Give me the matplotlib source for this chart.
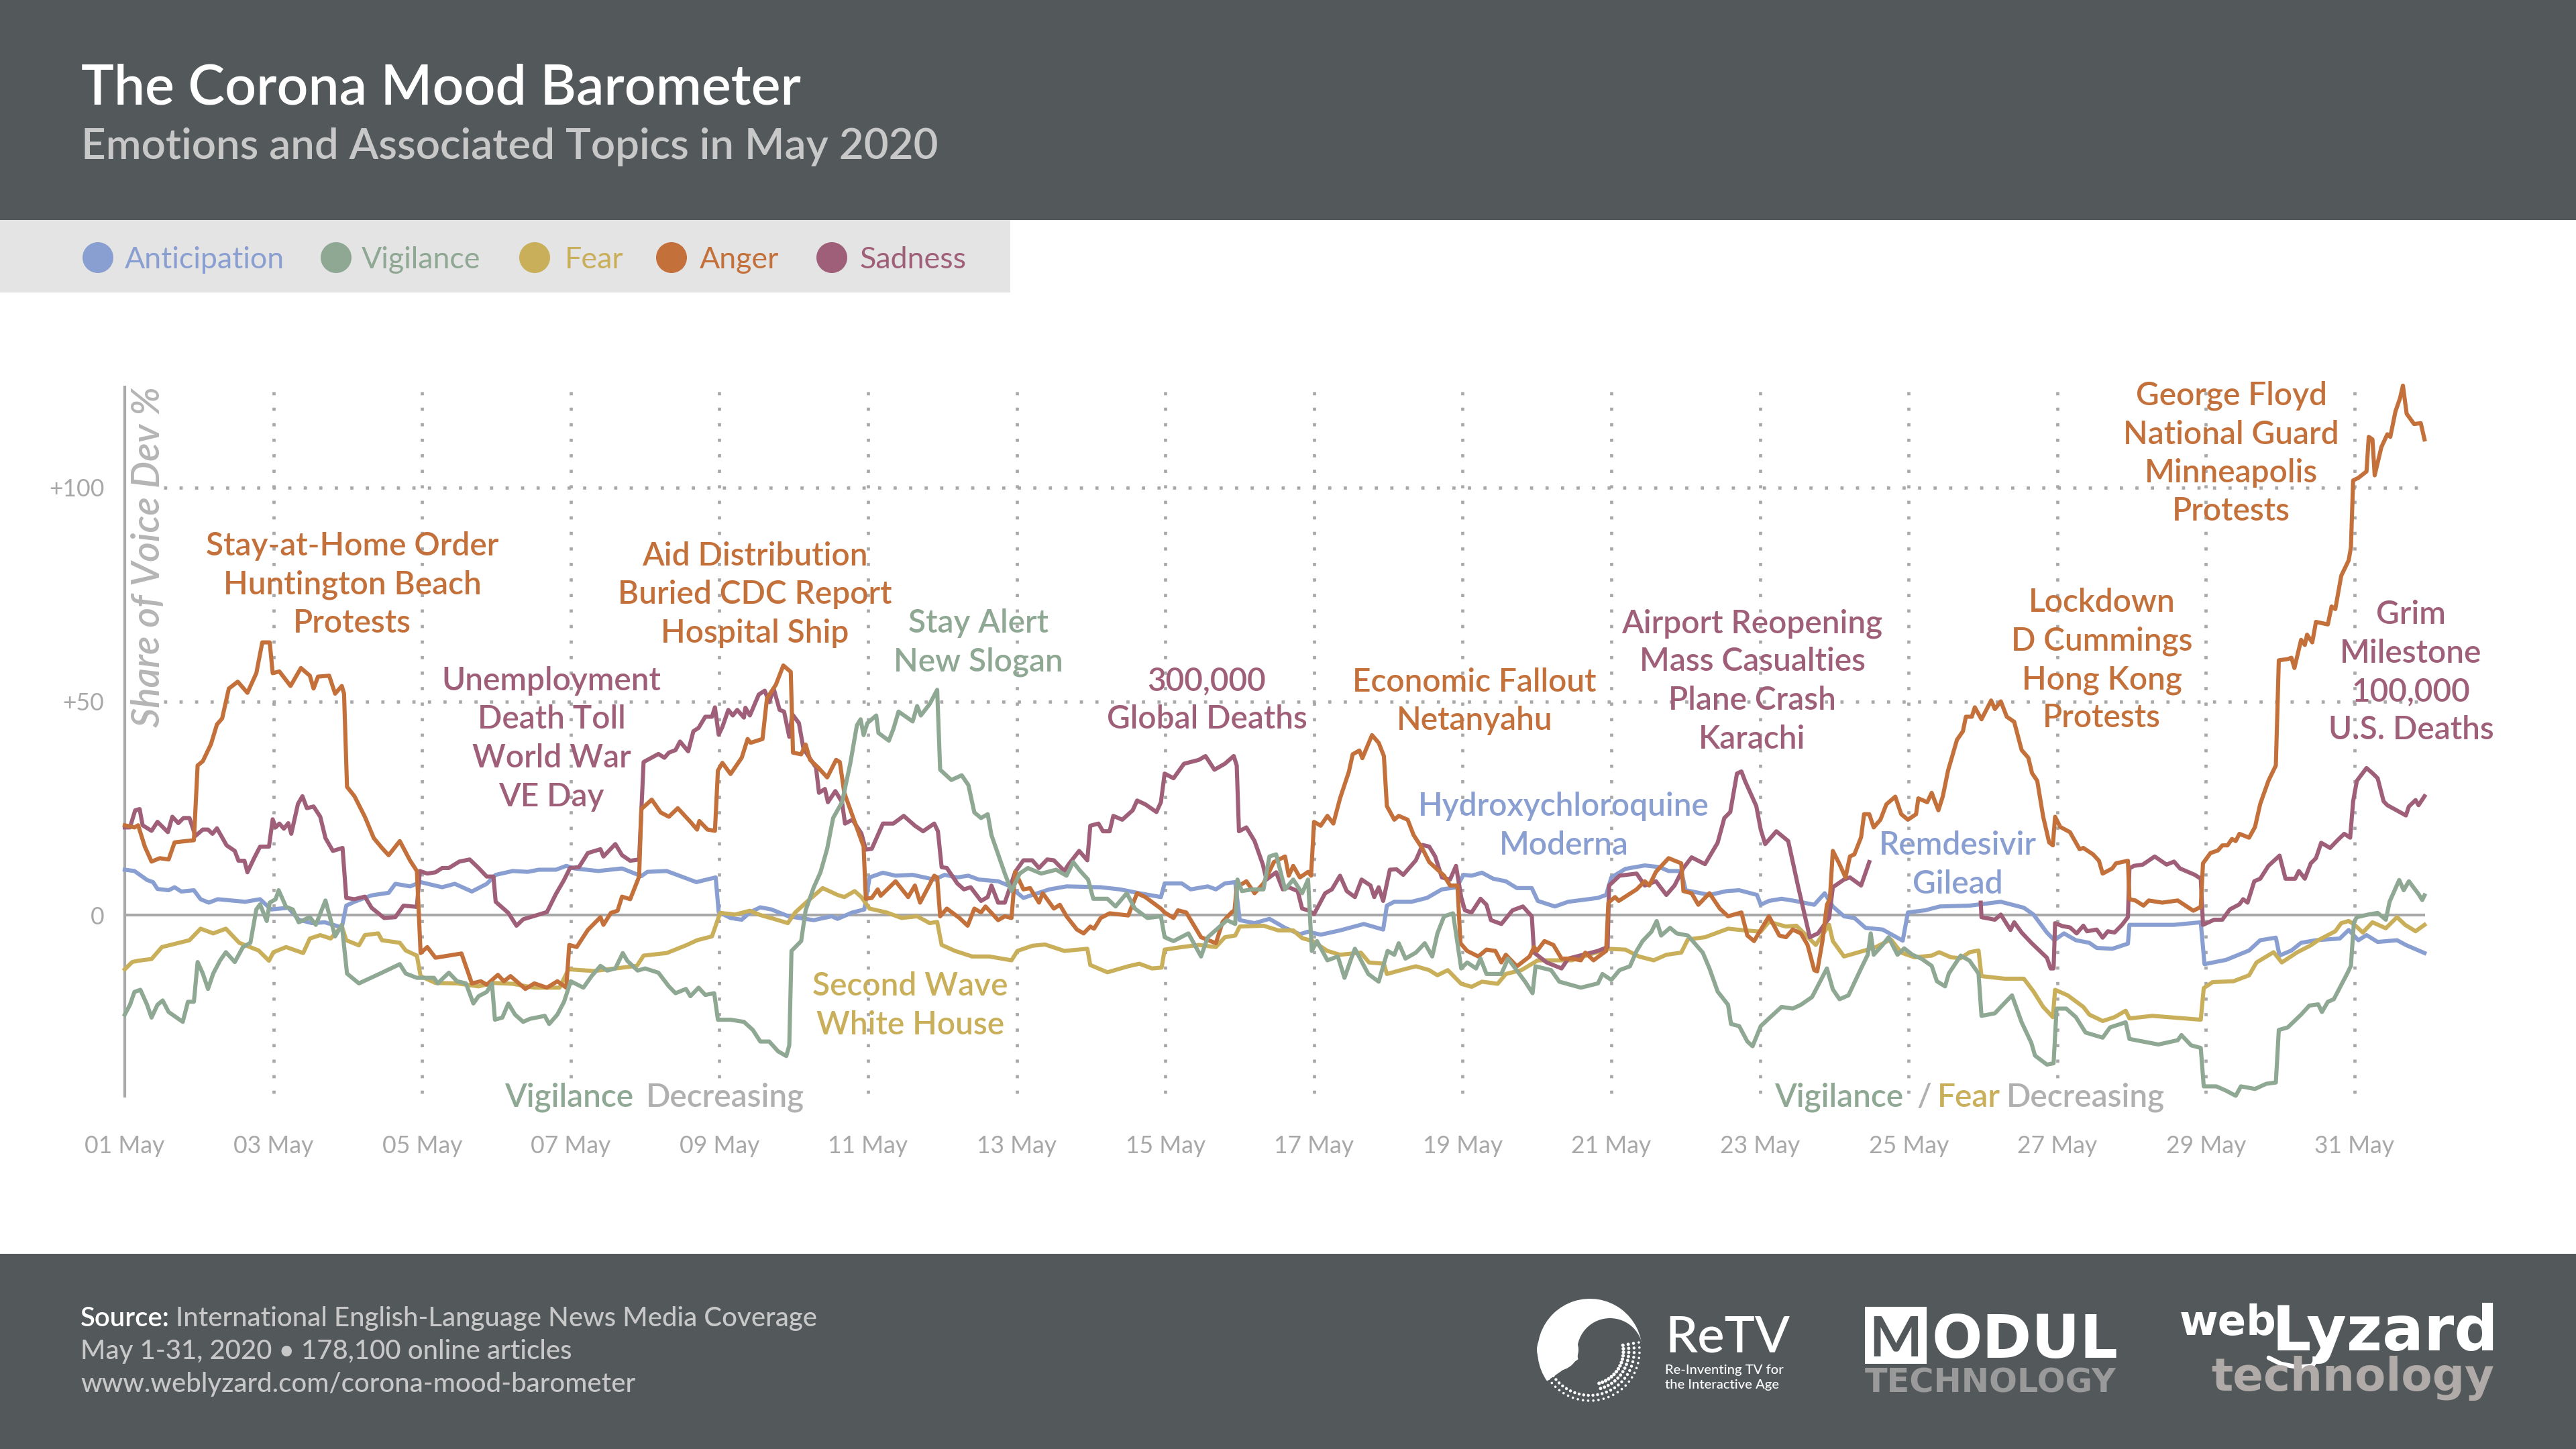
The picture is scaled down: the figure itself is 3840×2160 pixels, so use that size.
import numpy as np
import matplotlib
matplotlib.use("Agg")
from matplotlib import pyplot as plt
from matplotlib.patches import Circle, Rectangle, Wedge

nan = float("nan")

# colores
c_anticipation = "#8A9FD1"
c_vigilance = "#8FA893"
c_fear = "#C9AF5A"
c_anger = "#C4703A"
c_sadness = "#A05F78"
c_dark = "#53585B"
c_light = "#E4E4E4"
c_grey = "#A8A8A8"

# valores: dia desde el 1 de mayo, desviacion %
anger_days = [0,.13,.18,.27,.36,.47,.59,.67,.82,.93,.98,1.05,1.16,1.24,1.31,1.4,1.52,1.65,1.77,1.85,1.95,1.99,2.08,2.23,2.37,2.49,2.54,2.6,2.75,2.83,2.92,2.95,2.99,3.09,3.23,3.35,3.46,3.55,3.7,3.84,3.93,3.98,4.07,4.18,4.53,4.67,4.79,4.87,5.02,5.1,5.19,5.39,5.51,5.68,5.82,5.94,5.98,6.08,6.23,6.4,6.44,6.54,6.63,6.69,6.8,6.92,6.95,7.09,7.21,7.32,7.44,7.61,7.7,7.73,7.84,7.94,7.98,8.04,8.15,8.3,8.38,8.42,8.58,8.64,8.76,8.86,8.96,8.99,9.1,9.16,9.22,9.33,9.45,9.57,9.62,9.68,9.82,9.94,9.97,10.05,10.13,10.17,10.37,10.54,10.63,10.7,10.89,10.93,10.97,11.06,11.23,11.34,11.43,11.52,11.58,11.75,11.84,11.93,11.98,12.09,12.18,12.3,12.35,12.5,12.58,12.67,12.81,12.9,12.99,13.04,13.13,13.25,13.5,13.62,13.73,13.94,13.99,14.11,14.17,14.28,14.48,14.68,14.77,14.89,14.93,14.96,15.09,15.2,15.32,15.46,15.61,15.66,15.72,15.81,15.92,15.96,16.0,16.09,16.18,16.26,16.35,16.47,16.52,16.61,16.65,16.78,16.87,16.94,16.98,17.08,17.14,17.26,17.34,17.46,17.55,17.75,17.83,17.93,17.97,18.06,18.21,18.32,18.44,18.52,18.58,18.73,18.9,18.96,19,19.1,19.22,19.33,19.47,19.59,19.65,19.76,19.93,19.96,20.05,20.1,20.34,20.45,20.51,20.6,20.77,20.94,20.97,21.08,21.17,21.32,21.46,21.57,21.75,21.83,21.92,22.12,22.26,22.35,22.44,22.55,22.64,22.73,22.77,22.84,22.9,22.94,22.98,23.07,23.15,23.21,23.27,23.36,23.4,23.47,23.53,23.62,23.7,23.82,23.9,23.99,24.1,24.13,24.25,24.31,24.4,24.46,24.53,24.65,24.73,24.77,24.85,24.89,24.98,25.11,25.16,25.24,25.32,25.42,25.52,25.61,25.66,25.73,25.81,25.89,25.94,25.97,26.04,26.17,26.3,26.35,26.48,26.56,26.61,26.74,26.79,26.95,26.97,27.05,27.16,27.23,27.41,27.62,27.83,27.93,27.96,28.06,28.16,28.22,28.29,28.35,28.4,28.45,28.58,28.66,28.73,28.84,28.94,28.98,29.1,29.15,29.19,29.28,29.33,29.36,29.43,29.48,29.64,29.69,29.74,29.82,29.92,29.95,29.98,30.05,30.16,30.19,30.24,30.27,30.36,30.44,30.48,30.55,30.61,30.65,30.7,30.8,30.89,30.94]
anger_vals = [21,20.5,21,16,12.5,13.3,13,17,17.3,17.5,35,36,40,44.6,46,53,54.6,52,56.6,63.8,63.8,56.6,57,53.6,57.8,56,53,55.8,56,51.8,53.6,51.8,30,27.8,23,18,15.7,14,17.3,12.7,10.3,-8.9,-7.5,-10,-9,-16,-15.5,-16.3,-14,-15.5,-14.3,-17.3,-16,-17,-15.5,-17,-7,-7.5,-3.5,-.5,-2.3,.5,1,4.3,3.7,9,24.8,27,24,23,25,21.8,20,22,20,19.7,33.8,35.6,33,36.8,41.2,40.3,41.2,50.7,53.9,58.4,56.9,38,37.6,39.9,36.3,34.5,32.2,36.3,35.8,28.6,21.8,16,3.8,4,6,4.5,7.9,4.2,6.9,2.9,9.2,8.8,-.3,1.5,-.7,-2.5,1.5,.6,2,-1.2,-.3,-.7,10.1,6,6.3,2.9,5.1,1.5,2.4,-.3,-3.4,-4.3,-2.7,-3.2,-.7,.4,-.1,5.1,4.2,1.5,.6,-.7,1.1,.6,-5.2,-6.6,-1.6,.6,1.1,6.5,7.9,5.1,7.4,12.4,13.7,9.2,11.5,8.8,10.1,9.2,21.8,20.9,23.2,21.4,27.3,33.6,37.6,38.5,36.7,42.1,40.3,37.2,25.5,22.3,23.2,22.3,18.7,15.5,12.4,9.2,6.9,6.9,-6.6,-8.4,-9.7,-8.1,-8.4,-11.1,-9.3,-12,-9.7,-7.5,-8.4,-6.1,-7,-10.2,-10.2,-10.6,-8.8,-10.6,-8.4,2.9,4.2,3.3,6,7.9,6.9,10.1,13.3,12.1,5.6,5.1,2.4,5.1,1.5,-.3,.6,-4.8,-6.1,-.3,-4.8,-5.2,-3.4,-4.3,-7,-12.9,-13.2,-6.1,2.4,3.8,15,11.9,8.8,13.7,14.2,18.2,23.6,23.6,20.5,22.3,25.9,27.7,23.6,22.3,23.6,27.3,26.4,28.6,24.5,27.8,33.8,41,43,46.4,46.4,48.6,45.8,50.2,48.2,50,46.4,45.2,38.6,36.8,33.2,31.4,23,17,16.3,23,20.6,19.4,15.4,15.7,14.2,12.7,9.7,10.9,12.1,12.7,3.7,3.4,2.2,3.4,2.9,3.4,1,1.9,12.1,14.5,15.1,16.3,16.3,17.8,17.3,19,18.1,20.6,26,31.4,35,59.6,59.9,60.2,57.8,64.4,63.2,65.6,63.8,68.6,68,72.2,71.6,79.4,83,86,101.7,102.3,103.8,111.9,111.3,102.9,109.5,112.5,111.9,117.9,120.9,123.9,117.3,114.9,115.1,111.3]

sadness_days = [0,.07,.14,.2,.24,.36,.44,.58,.64,.72,.79,.87,.95,1.05,1.12,1.18,1.24,1.37,1.48,1.53,1.61,1.65,1.74,1.82,1.94,1.99,2.03,2.08,2.14,2.2,2.24,2.33,2.39,2.45,2.54,2.63,2.7,2.8,2.93,2.98,3.09,3.23,3.32,3.49,3.64,3.75,3.93,3.97,4.07,4.18,4.27,4.36,4.5,4.64,4.76,4.87,4.96,4.99,5.16,5.27,5.36,5.57,5.68,5.8,5.91,5.99,6.11,6.23,6.4,6.44,6.6,6.69,6.8,6.92,6.98,7.18,7.26,7.32,7.41,7.47,7.58,7.65,7.72,7.81,7.9,7.94,7.99,8.04,8.12,8.18,8.24,8.33,8.35,8.41,8.53,8.61,8.67,8.73,8.81,8.87,8.94,8.98,9.07,9.13,9.25,9.3,9.34,9.42,9.46,9.56,9.65,9.69,9.79,9.91,9.97,10.05,10.2,10.34,10.48,10.63,10.74,10.89,10.94,10.99,11.06,11.2,11.29,11.38,11.52,11.61,11.66,11.75,11.84,11.98,12.09,12.21,12.3,12.41,12.5,12.64,12.7,12.84,12.95,12.99,13.1,13.16,13.25,13.3,13.42,13.56,13.62,13.73,13.88,13.94,13.99,14.11,14.25,14.45,14.54,14.66,14.8,14.92,14.96,14.99,15.09,15.2,15.31,15.36,15.49,15.58,15.66,15.78,15.84,15.92,16,16.15,16.24,16.35,16.44,16.55,16.64,16.76,16.81,16.87,16.93,17.02,17.11,17.2,17.29,17.37,17.46,17.55,17.63,17.72,17.83,17.91,17.98,18.03,18.12,18.24,18.32,18.38,18.52,18.67,18.81,18.93,18.96,19.13,19.33,19.42,19.82,19.95,19.97,20.11,20.34,20.45,20.6,20.74,20.85,20.97,21.08,21.26,21.43,21.52,21.6,21.69,21.75,21.8,21.95,22.01,22.07,22.15,22.22,22.38,22.51,22.67,22.78,22.93,22.98,23.13,23.21,23.36,23.47,23.48,24.97,24.98,25.16,25.24,25.37,25.42,25.52,25.65,25.86,25.91,25.95,25.97,26.07,26.17,26.26,26.35,26.4,26.53,26.61,26.68,26.77,26.87,26.95,26.97,27.03,27.15,27.31,27.47,27.57,27.65,27.85,27.93,27.96,28.11,28.22,28.32,28.45,28.5,28.56,28.65,28.73,28.84,28.99,29.07,29.2,29.25,29.33,29.41,29.48,29.55,29.67,29.77,29.86,29.94,29.98,30.03,30.16,30.24,30.31,30.39,30.44,30.69,30.73,30.82,30.86,30.94]
sadness_vals = [20.5,20.5,24.5,24.8,21,19.7,21.8,19.4,23,21.5,22.7,22.7,18.5,20,20,19,20.3,16.3,15,12.7,12.7,10,13.3,16,16,22.4,20.5,21.4,20.2,21.5,19,26,27.8,25,25.4,23,18,15,15.7,4,3.7,4.3,1.7,-.7,-.5,2.2,1.9,10.3,9.7,10,11,11,12.5,13,11,9,9,3.1,.5,-2.5,-1,.1,.7,4.9,8.2,11,11.2,14.5,15.4,13.7,16.6,14,12.7,13,35.8,37.7,36.8,38,38.6,40.6,38.3,43,43.8,46.4,46.4,48.6,42.2,44,48,46.7,48,46.2,48.5,46.7,51.6,52.5,49.8,53,48,47.6,41.7,47,44.9,39,35.8,34.5,28.6,29.5,26.4,29,26.4,21.4,22.3,19.1,15.3,15.5,21.4,21.4,23.2,20.9,19.6,21.4,19.6,11.2,11,7.4,6,6.5,3.3,4.2,6.9,2.9,2.9,10.1,12.8,12.8,11,13,12.8,10.3,11.9,15,12.8,20.9,21.4,19.6,19.6,23.2,22.3,24.5,26.8,25.9,24.1,26.4,33.1,32,35.4,36.3,37.2,34,35.4,37.2,35,19.6,20.5,17.3,11.9,8.3,10,6,6.5,5.6,1.5,1.1,.2,5.1,6,9.2,5.6,4.2,8.3,6.9,4.2,6.5,3.3,10.6,10.7,9.4,11.2,12.8,16.4,16,13.7,8.8,8.3,11.5,4.2,1.1,.6,3.8,2.4,-1.2,-2.1,1.1,2,-.3,-8.8,-11.1,-12.5,-10.2,-8.4,-7.5,6.9,9.2,9.7,6.9,7.9,4.7,6.9,11,13.5,11.9,16.9,22.7,24.1,33.1,33.6,31.3,25.5,20,16.6,18.2,19.6,17.3,6.9,-5.2,-4.3,-.7,6.5,8.3,8.8,6.9,12.4,nan,2.9,-.5,-1.1,.1,-3.5,-1.7,-4.1,-6.5,-10,-12.5,-12.5,-1.9,-2.6,-2.9,-4.3,-2.5,-3.8,-3.4,-5.3,-3.8,-4.1,-2.3,-.5,10.9,11.5,11.8,13.7,11.8,12.5,10.9,9.4,8.5,-2.3,-1.1,-1.1,1.3,2.5,3.7,2.9,7.9,8.5,11.5,13.9,8.5,8.5,10.3,8.5,12.1,13.3,16.9,15.7,17.5,19,18.1,26.6,31.4,34.4,33.2,32,26.6,25.7,23.3,25.4,26.9,25.7,27.8]

vigilance_days = [0,.07,.13,.21,.3,.36,.44,.51,.59,.78,.85,.93,.98,1.05,1.12,1.19,1.28,1.36,1.48,1.59,1.69,1.77,1.82,1.91,1.95,2.03,2.07,2.17,2.26,2.34,2.49,2.57,2.7,2.83,2.92,2.99,3.15,3.46,3.7,3.78,3.93,4.16,4.21,4.36,4.47,4.59,4.69,4.76,4.87,4.94,4.98,5.08,5.16,5.25,5.36,5.45,5.65,5.71,5.82,5.91,6,6.17,6.28,6.4,6.49,6.6,6.7,6.76,6.9,7,7.18,7.32,7.41,7.55,7.61,7.72,7.81,7.93,7.98,8.15,8.33,8.45,8.55,8.67,8.79,8.9,8.94,8.97,9.1,9.16,9.27,9.36,9.45,9.53,9.65,9.76,9.85,9.9,9.94,9.99,10.11,10.14,10.28,10.34,10.41,10.6,10.66,10.71,10.83,10.93,10.97,11.12,11.26,11.35,11.43,11.52,11.61,11.66,11.75,11.84,11.93,12.04,12.15,12.33,12.53,12.67,12.76,12.84,12.96,13.03,13.22,13.33,13.48,13.59,13.76,13.94,13.99,14.11,14.31,14.48,14.57,14.83,14.94,14.97,15.03,15.17,15.32,15.4,15.49,15.61,15.72,15.84,15.92,15.97,16.04,16.18,16.32,16.41,16.5,16.55,16.73,16.87,16.99,17.08,17.14,17.23,17.37,17.49,17.59,17.66,17.75,17.87,17.98,18.06,18.18,18.24,18.32,18.52,18.61,18.84,18.94,18.98,19.19,19.3,19.59,19.82,19.88,20,20.11,20.25,20.34,20.42,20.54,20.61,20.67,20.79,20.88,21.03,21.23,21.32,21.43,21.57,21.61,21.72,21.83,21.9,22.01,22.12,22.29,22.44,22.55,22.7,22.82,22.9,22.98,23.07,23.19,23.36,23.45,23.49,23.53,23.65,23.73,23.85,23.94,24.05,24.17,24.31,24.38,24.49,24.54,24.7,24.82,24.94,24.98,25.16,25.24,25.39,25.52,25.65,25.7,25.86,25.95,25.99,26.12,26.25,26.38,26.61,26.71,26.92,26.97,27.15,27.36,27.62,27.67,27.8,27.93,27.97,28.14,28.27,28.4,28.47,28.66,28.81,28.94,28.98,29.1,29.28,29.39,29.51,29.56,29.64,29.72,29.9,29.95,29.99,30.03,30.18,30.31,30.42,30.47,30.6,30.66,30.73,30.86,30.91,30.94]
vigilance_vals = [-23.3,-21,-18,-17.5,-21,-24,-21,-20,-22.7,-25,-20.3,-20.3,-11,-13.7,-17.3,-13.7,-10.7,-8.7,-11,-7.5,-6.5,1.3,2.5,-1.4,2.9,3.7,5.8,1.9,1.3,-1.7,-.5,-2.3,3.4,-5,-2.3,-13.7,-16,-13.5,-11.5,-13.7,-14.7,-14.7,-16,-13.5,-15.5,-16,-20.7,-19,-18,-16,-24.5,-24,-20.7,-23.3,-25,-24.3,-23.6,-25.5,-23.3,-20.3,-15.5,-17,-14.3,-11.9,-13,-12.5,-8.9,-10.7,-13,-12.5,-13.5,-16.7,-18.3,-17.3,-19,-17,-18.7,-18.3,-24.5,-24.5,-25,-26.9,-29.6,-29.6,-31.9,-33,-30.5,-8.4,-6.1,1.1,6.5,10,15.5,22.7,26.4,35.4,44.4,45.8,42.1,44.9,46.7,42.6,40.8,43.5,47.6,45.3,48.9,46.7,49.4,52.7,34,31.6,32.7,30.4,24,22.7,23.6,18.7,14.2,9.7,5.6,9.7,11,9.7,10.6,9.2,12.4,10.6,8.3,3.8,3.8,2,5.1,1.5,-.7,-.3,-5.2,-6.1,-4.3,-9.7,-5.2,-1.2,-2.1,8.3,5.6,6,6,13.7,14.2,6,8.3,5.1,8.3,-8.4,-6.1,-10.6,-9.7,-14.7,-10.2,-7.9,-13.8,-15.6,-8.4,-9.3,-6.6,-10.2,-8.8,-6.6,-9.7,-4.3,-.3,.4,-12.5,-11.1,-12.5,-10.2,-13.8,-13.8,-10.2,-15.6,-18.3,-12,-12.9,-15.6,-17,-16,-13.8,-15.2,-12.9,-12,-8.4,-6.1,-3.9,-1.4,-4.8,-3,-4.3,-4.8,-8.8,-12.5,-17.9,-21,-25.5,-26,-29.6,-30.7,-26,-24.2,-21.5,-21.9,-21,-19.2,-15.2,-12.5,-17.4,-19.7,-18.8,-12.5,-9.3,-4.3,-9.3,-7,-5.2,-9.3,-7.8,-9.3,-10.2,-11.9,-15.5,-16.7,-13.7,-9.5,-10.7,-13.7,-23.6,-23,-21.5,-18.8,-25.1,-29.9,-32.9,-35,-34.7,-21.9,-21.9,-23.9,-27.5,-28.7,-26.3,-25.1,-29,-29.6,-30.3,-29.3,-28.1,-30.5,-31.1,-40.1,-40.1,-41.1,-42.3,-40.1,-40.7,-39.5,-39.2,-26.9,-26.3,-23.3,-21.2,-20.9,-22.7,-20.3,-19.7,-13.7,-11.9,-1.7,-.5,.1,.5,-1.1,3.1,8.2,5.8,7.9,4.9,3.5,4.6]

fear_days = [0,.1,.18,.36,.5,.73,.87,1.02,1.19,1.36,1.54,1.8,1.94,2,2.17,2.4,2.49,2.63,2.77,2.92,2.98,3.15,3.23,3.41,3.46,3.7,3.78,3.93,3.98,4.18,4.47,4.76,4.96,5.22,5.51,5.85,5.97,6.31,6.89,6.98,7.29,7.55,7.7,7.9,8.01,8.21,8.41,8.55,8.79,8.92,9.02,9.19,9.39,9.59,9.68,9.82,9.91,10.02,10.25,10.45,10.66,10.83,10.93,10.99,11.17,11.4,11.63,11.93,12.01,12.21,12.38,12.64,12.95,12.99,13.22,13.5,13.65,13.82,13.95,13.99,14.22,14.45,14.68,14.8,14.94,15,15.32,15.52,15.72,15.84,15.98,16.18,16.35,16.63,16.74,16.94,16.98,17.17,17.37,17.55,17.66,17.8,17.98,18.12,18.26,18.47,18.58,18.79,19.01,19.47,19.95,20.19,20.37,20.57,20.74,20.94,21.03,21.26,21.57,21.8,22.01,22.12,22.35,22.49,22.75,22.93,22.98,23.13,23.39,23.56,23.76,23.9,24.08,24.31,24.41,24.57,24.7,24.82,24.94,24.98,25.29,25.55,25.68,25.81,25.94,25.97,26.14,26.35,26.43,26.61,26.77,26.92,26.97,27.28,27.93,27.97,28.09,28.37,28.58,28.68,28.91,29.02,29.23,29.41,29.51,29.74,29.82,29.92,30,30.11,30.24,30.42,30.57,30.68,30.82,30.94]
fear_vals = [-12.7,-11,-10.7,-10.3,-7.5,-6.5,-5.9,-3.2,-4.3,-3.2,-6.5,-8.3,-10.7,-8.7,-7.5,-8.9,-5.5,-4.7,-5.5,-2.6,-5.9,-7.1,-4.7,-4.3,-5.9,-6.5,-8.3,-9.5,-14.3,-15.9,-16,-16.7,-15.9,-16.1,-17,-17,-12.7,-13.1,-11.9,-9.5,-8.9,-7.1,-5.9,-5,.5,.1,1,-.0,-1.2,-1.9,.6,3.3,6.3,4.7,4.2,5.6,4.2,1.5,.6,-.7,-.3,-1.9,-1.6,-7,-8.4,-9.7,-9.7,-10.6,-8.4,-7.2,-6.9,-8.4,-7.9,-11.7,-13.4,-12,-11.4,-12.5,-12.3,-8.1,-7.5,-7,-7.5,-5.2,-4.8,-2.7,-2.5,-3.6,-3.6,-5.4,-6.1,-8.4,-9.3,-8.8,-11.1,-11.4,-13.8,-12.9,-12,-12.9,-14.1,-12.9,-16.1,-16.8,-15.6,-16.1,-13.8,-12.9,-10.6,-10.6,-7.9,-8.1,-9.7,-10.6,-9.3,-8.8,-5.7,-5.2,-3.2,-3.6,-3.9,-1.6,-2.7,-2.5,-7,-2.3,-6.1,-9.7,-8.4,-7.5,-5.7,-8.8,-9.9,-9.5,-8.7,-9.9,-10.1,-8.7,-8.3,-14.3,-14.9,-14.9,-17.9,-21.5,-23.9,-17.5,-18.8,-21.5,-23.3,-24.8,-23.9,-22.4,-24.2,-23.6,-24.5,-17.1,-15.7,-15.5,-14.1,-11.1,-8.7,-11.1,-8.7,-7.1,-5.9,-3.8,-1.9,-1.4,-2.3,-4.1,-1.7,-3.1,-.5,-2.3,-3.8,-2.3]

anticipation_days = [0,.13,.3,.38,.44,.59,.67,.76,.93,1.02,1.13,1.25,1.62,1.82,1.97,2.2,2.34,2.52,2.69,2.92,2.98,3.09,3.32,3.55,3.64,3.84,3.98,4.27,4.44,4.67,4.87,4.99,5.22,5.42,5.57,5.8,5.94,6.05,6.37,6.69,6.95,7.03,7.29,7.69,7.95,7.99,8.15,8.3,8.41,8.55,8.7,8.93,9.27,9.51,9.59,9.79,9.95,10.02,10.2,10.37,10.6,10.89,11.03,11.2,11.35,11.49,11.75,11.89,12.09,12.21,12.44,12.67,13.13,13.39,13.65,13.94,13.99,14.22,14.34,14.57,14.68,14.8,14.94,15,15.2,15.4,15.61,15.81,15.92,16.09,16.35,16.67,16.93,16.98,17.08,17.31,17.52,17.72,17.92,18.01,18.12,18.26,18.41,18.58,18.73,18.93,19.01,19.24,19.42,19.82,19.93,20,20.19,20.45,20.65,20.77,20.94,21,21.32,21.55,21.72,21.96,22.01,22.12,22.29,22.47,22.73,22.87,22.98,23.13,23.27,23.42,23.65,23.92,23.99,24.22,24.42,24.82,25.24,25.55,25.68,25.86,25.96,26.09,26.25,26.43,26.53,26.74,26.95,26.97,27.26,27.57,27.93,27.98,28.27,28.58,28.73,28.94,28.99,29.15,29.28,29.48,29.8,29.92,30.05,30.16,30.31,30.57,30.7,30.94]
anticipation_vals = [10.6,10.3,8.2,7.7,6.1,5.8,6.5,5.5,5.8,3.7,2.9,3.7,3.1,3.7,1.3,1.7,-1.1,-1.9,-1.7,-2.9,2.2,3.1,4.6,5.2,7.3,6.7,7.7,6.5,7.3,5.5,7.3,9.4,10.3,10.1,10.6,10.6,11.5,10.9,10.3,10.9,9.1,10.1,10.3,7.7,8.8,.7,-.7,-1.1,.6,1.8,1.3,-.3,-1.2,-.3,-.9,.6,1.3,8.8,9.9,9.2,9.4,8.3,9.4,8.8,9.2,8.3,7.9,6.9,4,4.7,6,6.7,6.5,6,5.1,4.2,7.4,7.4,6,6.7,6,7.4,7.7,-1.2,-1.9,-.9,-3,-4.5,-3.9,-4.6,-3.6,-2.1,-3.4,2.2,3.1,3.1,4,6,6.5,9.4,9.2,9.9,8.5,7.9,6.3,6.3,3.3,2,3.1,4,4.7,8.8,10.8,11.6,11.2,10.3,10.3,5.8,4.7,5.6,5.8,4.7,2.4,3.3,3.8,3.3,2.4,5.1,2,-.3,-.7,-3,-3.4,-6,.6,1.1,2,2.2,3.1,1.7,.1,-4.1,-5.9,-4.3,-5.9,-6.5,-7.7,-7.9,-6.7,-2.3,-2.3,-2.3,-1.7,-11.5,-10.5,-8.3,-5.9,-5.3,-9.5,-8.3,-6.5,-5.9,-5.5,-3.5,-5.9,-4.7,-6.3,-5.9,-7.1,-8.9]

tick_days = [0, 2, 4, 6, 8, 10, 12, 14, 16, 18, 20, 22, 24, 26, 28, 30]
tick_labels = ["01 May", "03 May", "05 May", "07 May", "09 May", "11 May", "13 May", "15 May",
               "17 May", "19 May", "21 May", "23 May", "25 May", "27 May", "29 May", "31 May"]

W, H = 3840, 2160
plt.rcParams['font.family'] = ['Lato', 'DejaVu Sans']

fig = plt.figure(figsize=(19.2, 10.8), dpi=200, facecolor="white")

# ejes del grafico, colocados en pixeles de la imagen
x0, x1 = 186, 186 + 31 * 110.8
y_top, y_bot = 577, 1634
ax = fig.add_axes([x0 / W, 1 - y_bot / H, (x1 - x0) / W, (y_bot - y_top) / H], facecolor="none")
ax.set_xlim(0, 31)
ax.set_ylim((1364 - y_bot) / 6.37, (1364 - y_top) / 6.37)

for s in ["top", "right", "bottom"]:
    ax.spines[s].set_visible(False)
ax.spines["left"].set_color(c_grey)
ax.spines["left"].set_linewidth(1.5)

dots = (0, (1, 3.9))
ax.hlines([50, 100], 0.52, 30.9, color=c_grey, lw=1.7, linestyle=dots, zorder=1)
ax.vlines(tick_days[1:], ax.get_ylim()[0] + 0.7, ax.get_ylim()[1] - 1, color=c_grey, lw=1.7, linestyle=dots, zorder=1)
ax.hlines(0, 0, 30.95, color=c_grey, lw=1.5, zorder=1.5)

for d, v, c in [(anticipation_days, anticipation_vals, c_anticipation),
                (fear_days, fear_vals, c_fear),
                (sadness_days, sadness_vals, c_sadness),
                (anger_days, anger_vals, c_anger),
                (vigilance_days, vigilance_vals, c_vigilance)]:
    ax.plot(d, v, color=c, lw=2.2, solid_joinstyle="round", clip_on=False, zorder=3)

ax.set_xticks(tick_days)
ax.set_xticklabels(tick_labels)
ax.set_yticks([0, 50, 100])
ax.set_yticklabels(["0", "+50", "+100"])
ax.tick_params(axis="x", length=0, pad=21, labelsize=12.8, labelcolor=c_grey)
ax.tick_params(axis="y", length=0, pad=11, labelsize=12.8, labelcolor=c_grey)

# capa superior en pixeles para bandas, textos y logos
pg = fig.add_axes([0, 0, 1, 1], facecolor="none", zorder=5)
pg.set_xlim(0, W)
pg.set_ylim(H, 0)
pg.axis("off")

pg.add_patch(Rectangle((0, 0), W, 328, color=c_dark, lw=0))
pg.add_patch(Rectangle((0, 328), 1506, 108, color=c_light, lw=0))
pg.add_patch(Rectangle((0, 1869), W, H - 1869, color=c_dark, lw=0))

pg.text(121, 155, "The Corona Mood Barometer", color="white", fontsize=29.6, weight="semibold")
pg.text(121, 237, "Emotions and Associated Topics in May 2020", color="#C8C8C8", fontsize=22.9, weight="semibold")

legend_items = [("Anticipation", c_anticipation, 146, 186), ("Vigilance", c_vigilance, 501, 539),
                ("Fear", c_fear, 797, 842), ("Anger", c_anger, 1001, 1043), ("Sadness", c_sadness, 1240, 1281)]
for name, c, cx, tx in legend_items:
    pg.add_patch(Circle((cx, 384), 23, color=c, lw=0))
    pg.text(tx, 400, name, color=c, fontsize=16.1)

# etiquetas de temas
labels = [
    (["Stay-at-Home Order", "Huntington Beach", "Protests"], 525, 828, c_anger),
    (["Aid Distribution", "Buried CDC Report", "Hospital Ship"], 1125, 843, c_anger),
    (["Unemployment", "Death Toll", "World War", "VE Day"], 822, 1029, c_sadness),
    (["Stay Alert", "New Slogan"], 1458, 943, c_vigilance),
    (["300,000", "Global Deaths"], 1799, 1029, c_sadness),
    (["Economic Fallout", "Netanyahu"], 2198, 1031, c_anger),
    (["Airport Reopening", "Mass Casualties", "Plane Crash", "Karachi"], 2612, 943, c_sadness),
    (["Hydroxychloroquine", "Moderna"], 2331, 1216, c_anticipation),
    (["Remdesivir", "Gilead"], 2918, 1274, c_anticipation),
    (["Second Wave", "White House"], 1357, 1484, c_fear),
    (["Lockdown", "D Cummings", "Hong Kong", "Protests"], 3133, 912, c_anger),
    (["George Floyd", "National Guard", "Minneapolis", "Protests"], 3326, 604, c_anger),
    (["Grim", "Milestone", "100,000", "U.S. Deaths"], 3594, 930, c_sadness),
]
for lines, cx, by, c in labels:
    for i, s in enumerate(lines):
        pg.text(cx, by + i * 57.5, s, color=c, ha="center", fontsize=17.2, weight="semibold")

pg.text(752, 1650, "Vigilance", color=c_vigilance, fontsize=17.2, weight="semibold")
pg.text(963, 1650, "Decreasing", color="#B0B0B0", fontsize=17.2, weight="semibold")
pg.text(2645, 1650, "Vigilance", color=c_vigilance, fontsize=17.2, weight="semibold")
pg.text(2858, 1650, "/", color="#B0B0B0", fontsize=17.2, weight="semibold")
pg.text(2888, 1650, "Fear", color=c_fear, fontsize=17.2, weight="semibold")
pg.text(2991, 1650, "Decreasing", color="#B0B0B0", fontsize=17.2, weight="semibold")

pg.text(222, 830, "Share of Voice Dev %", color="#B5B5B5", rotation=90, ha="center", va="center",
        fontsize=20.5, style="italic", weight="semibold")

# pie
pg.text(120, 1977, "Source:", color="white", fontsize=14.45, weight="semibold")
pg.text(262, 1977, "International English-Language News Media Coverage", color="#C8C8C8", fontsize=14.45, weight="medium")
pg.text(120, 2026, "May 1-31, 2020 \u2022 178,100 online articles", color="#C8C8C8", fontsize=14.45, weight="medium")
pg.text(120, 2075, "www.weblyzard.com/corona-mood-barometer", color="#C8C8C8", fontsize=14.45, weight="medium")

# logo ReTV (el eje y esta invertido: angulos negativos hacia arriba)
pg.add_patch(Wedge((2370, 2014), 78, 145, 360, color="white", lw=0))
pg.add_patch(Circle((2400, 2014), 49, color=c_dark, lw=0))
pg.add_patch(Circle((2322, 2012), 31, color="white", lw=0))
for a in np.radians(np.arange(-176, 12, 6)):
    for r, s in [(50, 2.6), (58, 2.4), (66, 2.2), (74, 1.8)]:
        if a > np.radians(-75) or r > 60:
            pg.add_patch(Circle((2370 + r * np.cos(a), 2014 - r * np.sin(a)), s, color="white", lw=0))
pg.text(2482, 2015, "ReTV", color="white", fontsize=27.5, weight="medium")
pg.text(2482, 2048, "Re-Inventing TV for", color="white", fontsize=7.3, weight="medium")
pg.text(2482, 2070, "the Interactive Age", color="white", fontsize=7.3, weight="medium")

# logo MODUL
pg.add_patch(Rectangle((2780, 1948), 92, 85, color="white", lw=0))
pg.text(2826, 2022, "M", color=c_dark, ha="center", fontsize=30, weight="bold")
pg.text(2880, 2024, "ODUL", color="white", fontsize=32, weight="bold", family="DejaVu Sans")
pg.text(2780, 2075, "TECHNOLOGY", color="#9A9A9A", fontsize=17.8, weight="bold", family="DejaVu Sans")

# logo webLyzard
pg.text(3249, 1990, "web", color="white", fontsize=22.5, weight="bold", family="DejaVu Sans")
pg.text(3387, 2013, "Lyzard", color="white", fontsize=33, weight="bold", family="DejaVu Sans")
pg.text(3296, 2073, "technology", color="#B0ABA8", fontsize=24.3, weight="bold", family="DejaVu Sans")
# cola del lagarto
pg.plot([3382, 3400, 3425, 3447, 3460, 3477], [2024, 2033, 2038, 2036, 2015, 1985], color="white", lw=2.4,
        solid_capstyle="round")

fig.savefig("out.png", dpi=200)
